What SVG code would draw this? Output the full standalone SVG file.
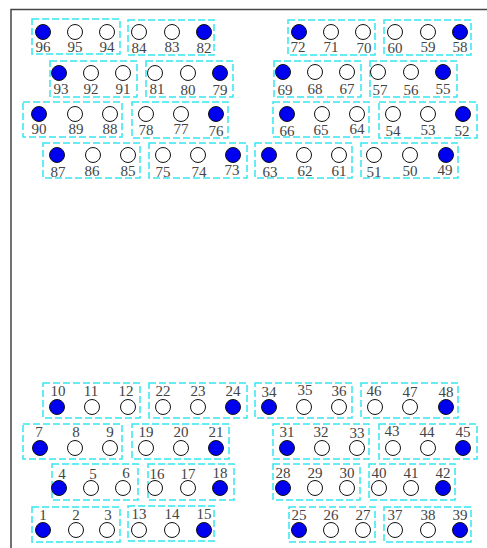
<svg xmlns="http://www.w3.org/2000/svg" width="487" height="548" viewBox="0 0 487 548">
<style>
.b{fill:none;stroke:#33e8f0;stroke-width:1.5;stroke-dasharray:7,3}
.o{fill:#fff;stroke:#111;stroke-width:1}
.f{fill:#0000f0;stroke:#111;stroke-width:1}
text{font-family:"Liberation Serif","DejaVu Serif",serif;font-size:15px;fill:#444;text-anchor:middle}
.fr{stroke:#444;stroke-width:1.5;fill:none}
</style>
<rect width="487" height="548" fill="#fff"/>
<path class="fr" d="M11,548 V9.5 H487"/>
<g id="nodes">
<!-- Row A -->
<g id="b96"><rect class="b" x="32" y="19" width="88" height="35"/><circle class="f" cx="43" cy="32" r="7.5"/><circle class="o" cx="75" cy="32" r="7.5"/><circle class="o" cx="107" cy="32" r="7.5"/><text x="43" y="52">96</text><text x="75" y="52">95</text><text x="107" y="52">94</text></g>
<g id="b84"><rect class="b" x="128" y="20" width="86" height="35"/><circle class="o" cx="139" cy="32" r="7.5"/><circle class="o" cx="172" cy="32" r="7.5"/><circle class="f" cx="204" cy="32" r="7.5"/><text x="139" y="53">84</text><text x="172" y="52">83</text><text x="204" y="53">82</text></g>
<g id="b72"><rect class="b" x="288" y="20" width="87" height="35"/><circle class="f" cx="299" cy="32" r="7.5"/><circle class="o" cx="331" cy="32" r="7.5"/><circle class="o" cx="363" cy="32" r="7.5"/><text x="298" y="52">72</text><text x="331" y="52">71</text><text x="364" y="53">70</text></g>
<g id="b60"><rect class="b" x="384" y="20" width="87" height="35"/><circle class="o" cx="395" cy="32" r="7.5"/><circle class="o" cx="428" cy="32" r="7.5"/><circle class="f" cx="460" cy="32" r="7.5"/><text x="395" y="53">60</text><text x="428" y="52">59</text><text x="460" y="52">58</text></g>
<!-- Row B -->
<g id="b93"><rect class="b" x="50" y="61" width="87" height="36"/><circle class="f" cx="59" cy="73" r="7.5"/><circle class="o" cx="91" cy="73" r="7.5"/><circle class="o" cx="123" cy="73" r="7.5"/><text x="61" y="94">93</text><text x="91" y="94">92</text><text x="123" y="94">91</text></g>
<g id="b81"><rect class="b" x="146" y="61" width="87" height="36"/><circle class="o" cx="155" cy="73" r="7.5"/><circle class="o" cx="188" cy="73" r="7.5"/><circle class="f" cx="220" cy="73" r="7.5"/><text x="157" y="94">81</text><text x="188" y="95">80</text><text x="220" y="95">79</text></g>
<g id="b69"><rect class="b" x="274" y="61" width="87" height="36"/><circle class="f" cx="283" cy="72" r="7.5"/><circle class="o" cx="315" cy="72" r="7.5"/><circle class="o" cx="347" cy="72" r="7.5"/><text x="285" y="95">69</text><text x="315" y="94">68</text><text x="347" y="94">67</text></g>
<g id="b57"><rect class="b" x="370" y="61" width="87" height="36"/><circle class="o" cx="378" cy="72" r="7.5"/><circle class="o" cx="411" cy="72" r="7.5"/><circle class="f" cx="443" cy="72" r="7.5"/><text x="380" y="95">57</text><text x="411" y="95">56</text><text x="443" y="94">55</text></g>
<!-- Row C -->
<g id="b90"><rect class="b" x="23" y="102" width="99" height="35"/><circle class="f" cx="39" cy="114" r="7.5"/><circle class="o" cx="75" cy="114" r="7.5"/><circle class="o" cx="110" cy="114" r="7.5"/><text x="39" y="134">90</text><text x="76" y="134">89</text><text x="110" y="134">88</text></g>
<g id="b78"><rect class="b" x="132" y="102" width="96" height="36"/><circle class="o" cx="146" cy="114" r="7.5"/><circle class="o" cx="181" cy="114" r="7.5"/><circle class="f" cx="216" cy="114" r="7.5"/><text x="146" y="135">78</text><text x="181" y="134">77</text><text x="216" y="136">76</text></g>
<g id="b66"><rect class="b" x="273" y="102" width="96" height="35"/><circle class="f" cx="287" cy="114" r="7.5"/><circle class="o" cx="322" cy="114" r="7.5"/><circle class="o" cx="357" cy="114" r="7.5"/><text x="287" y="136">66</text><text x="321" y="135">65</text><text x="357" y="134">64</text></g>
<g id="b54"><rect class="b" x="379" y="102" width="98" height="36"/><circle class="o" cx="393" cy="114" r="7.5"/><circle class="o" cx="428" cy="114" r="7.5"/><circle class="f" cx="463" cy="114" r="7.5"/><text x="393" y="136">54</text><text x="428" y="135">53</text><text x="462" y="136">52</text></g>
<!-- Row D -->
<g id="b87"><rect class="b" x="43" y="143" width="97" height="35"/><circle class="f" cx="57" cy="155" r="7.5"/><circle class="o" cx="93" cy="155" r="7.5"/><circle class="o" cx="128" cy="155" r="7.5"/><text x="58" y="177">87</text><text x="92" y="176">86</text><text x="128" y="176">85</text></g>
<g id="b75"><rect class="b" x="149" y="143" width="98" height="35"/><circle class="o" cx="163" cy="155" r="7.5"/><circle class="o" cx="198" cy="155" r="7.5"/><circle class="f" cx="233" cy="155" r="7.5"/><text x="163" y="177">75</text><text x="199" y="177">74</text><text x="232" y="175">73</text></g>
<g id="b63"><rect class="b" x="255" y="143" width="97" height="35"/><circle class="f" cx="269" cy="155" r="7.5"/><circle class="o" cx="304" cy="155" r="7.5"/><circle class="o" cx="339" cy="155" r="7.5"/><text x="270" y="177">63</text><text x="305" y="176">62</text><text x="339" y="176">61</text></g>
<g id="b51"><rect class="b" x="361" y="143" width="97" height="35"/><circle class="o" cx="374" cy="155" r="7.5"/><circle class="o" cx="410" cy="155" r="7.5"/><circle class="f" cx="446" cy="155" r="7.5"/><text x="374" y="177">51</text><text x="410" y="176">50</text><text x="445" y="175">49</text></g>
<!-- Row E -->
<g id="b10"><rect class="b" x="43" y="383" width="97" height="35"/><circle class="f" cx="57" cy="407" r="7.5"/><circle class="o" cx="92" cy="407" r="7.5"/><circle class="o" cx="128" cy="407" r="7.5"/><text x="58" y="396">10</text><text x="91" y="396">11</text><text x="126" y="396">12</text></g>
<g id="b22"><rect class="b" x="149" y="383" width="98" height="35"/><circle class="o" cx="163" cy="407" r="7.5"/><circle class="o" cx="198" cy="407" r="7.5"/><circle class="f" cx="233" cy="407" r="7.5"/><text x="163" y="396">22</text><text x="198" y="396">23</text><text x="233" y="396">24</text></g>
<g id="b34"><rect class="b" x="255" y="383" width="97" height="35"/><circle class="f" cx="269" cy="407" r="7.5"/><circle class="o" cx="304" cy="407" r="7.5"/><circle class="o" cx="339" cy="407" r="7.5"/><text x="269" y="397">34</text><text x="305" y="395">35</text><text x="339" y="396">36</text></g>
<g id="b46"><rect class="b" x="361" y="383" width="97" height="35"/><circle class="o" cx="375" cy="407" r="7.5"/><circle class="o" cx="410" cy="407" r="7.5"/><circle class="f" cx="446" cy="407" r="7.5"/><text x="374" y="396">46</text><text x="410" y="397">47</text><text x="446" y="397">48</text></g>
<!-- Row F -->
<g id="b7"><rect class="b" x="23" y="424" width="99" height="35"/><circle class="f" cx="40" cy="448" r="7.5"/><circle class="o" cx="75" cy="448" r="7.5"/><circle class="o" cx="110" cy="448" r="7.5"/><text x="39" y="437">7</text><text x="76" y="437">8</text><text x="110" y="437">9</text></g>
<g id="b19"><rect class="b" x="132" y="424" width="97" height="35"/><circle class="o" cx="146" cy="448" r="7.5"/><circle class="o" cx="181" cy="448" r="7.5"/><circle class="f" cx="216" cy="448" r="7.5"/><text x="146" y="437">19</text><text x="181" y="437">20</text><text x="216" y="437">21</text></g>
<g id="b31"><rect class="b" x="273" y="424" width="96" height="35"/><circle class="f" cx="287" cy="448" r="7.5"/><circle class="o" cx="322" cy="448" r="7.5"/><circle class="o" cx="357" cy="448" r="7.5"/><text x="287" y="437">31</text><text x="321" y="437">32</text><text x="357" y="438">33</text></g>
<g id="b43"><rect class="b" x="379" y="424" width="98" height="35"/><circle class="o" cx="393" cy="448" r="7.5"/><circle class="o" cx="428" cy="448" r="7.5"/><circle class="f" cx="463" cy="448" r="7.5"/><text x="392" y="436">43</text><text x="427" y="437">44</text><text x="463" y="437">45</text></g>
<!-- Row G -->
<g id="b4"><rect class="b" x="52" y="464" width="86" height="36"/><circle class="f" cx="59" cy="488" r="7.5"/><circle class="o" cx="91" cy="488" r="7.5"/><circle class="o" cx="123" cy="488" r="7.5"/><text x="62" y="479">4</text><text x="93" y="479">5</text><text x="126" y="478">6</text></g>
<g id="b16"><rect class="b" x="148" y="464" width="86" height="36"/><circle class="o" cx="155" cy="488" r="7.5"/><circle class="o" cx="188" cy="488" r="7.5"/><circle class="f" cx="220" cy="488" r="7.5"/><text x="157" y="479">16</text><text x="188" y="479">17</text><text x="220" y="478">18</text></g>
<g id="b28"><rect class="b" x="273" y="464" width="87" height="36"/><circle class="f" cx="283" cy="488" r="7.5"/><circle class="o" cx="315" cy="488" r="7.5"/><circle class="o" cx="347" cy="488" r="7.5"/><text x="283" y="478">28</text><text x="315" y="478">29</text><text x="347" y="478">30</text></g>
<g id="b40"><rect class="b" x="369" y="464" width="86" height="36"/><circle class="o" cx="379" cy="488" r="7.5"/><circle class="o" cx="411" cy="488" r="7.5"/><circle class="f" cx="443" cy="488" r="7.5"/><text x="379" y="478">40</text><text x="411" y="478">41</text><text x="443" y="478">42</text></g>
<!-- Row H -->
<g id="b1"><rect class="b" x="32" y="507" width="88" height="35"/><circle class="f" cx="43" cy="530" r="7.5"/><circle class="o" cx="76" cy="530" r="7.5"/><circle class="o" cx="107" cy="530" r="7.5"/><text x="43" y="520">1</text><text x="76" y="520">2</text><text x="108" y="520">3</text></g>
<g id="b13"><rect class="b" x="128" y="506" width="86" height="35"/><circle class="o" cx="139" cy="530" r="7.5"/><circle class="o" cx="172" cy="530" r="7.5"/><circle class="f" cx="204" cy="530" r="7.5"/><text x="139" y="519">13</text><text x="172" y="519">14</text><text x="204" y="519">15</text></g>
<g id="b25"><rect class="b" x="289" y="507" width="86" height="35"/><circle class="f" cx="299" cy="530" r="7.5"/><circle class="o" cx="331" cy="530" r="7.5"/><circle class="o" cx="363" cy="530" r="7.5"/><text x="299" y="520">25</text><text x="331" y="520">26</text><text x="363" y="520">27</text></g>
<g id="b37"><rect class="b" x="384" y="507" width="87" height="35"/><circle class="o" cx="395" cy="530" r="7.5"/><circle class="o" cx="428" cy="530" r="7.5"/><circle class="f" cx="460" cy="530" r="7.5"/><text x="395" y="520">37</text><text x="428" y="520">38</text><text x="460" y="520">39</text></g>
</g>
<g id="connectors"/>
</svg>
